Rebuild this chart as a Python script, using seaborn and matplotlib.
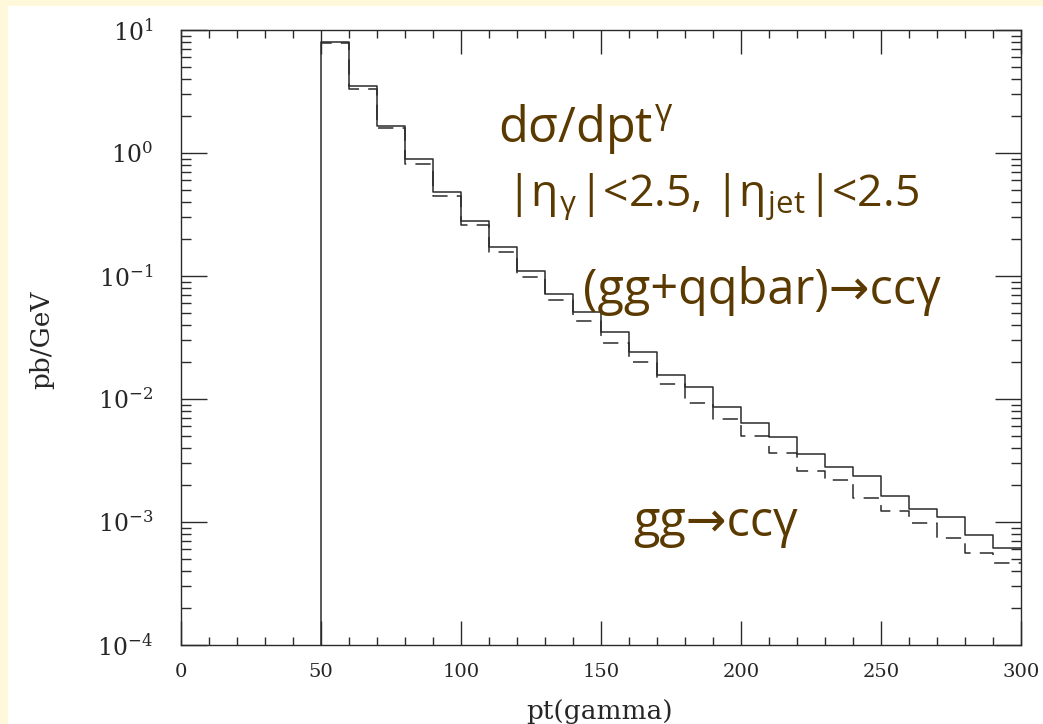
import numpy as np
import matplotlib
matplotlib.use("Agg")
import matplotlib.pyplot as plt
import seaborn as sns
from matplotlib.patches import Rectangle
from matplotlib.ticker import LogLocator, MultipleLocator, LogFormatterMathtext, NullFormatter

# ---- data ----
bin_edges = [50, 60, 70, 80, 90, 100, 110, 120, 130, 140, 150, 160, 170, 180, 190,
             200, 210, 220, 230, 240, 250, 260, 270, 280, 290, 300]
total = [8.0, 3.5, 1.66, 0.89, 0.485, 0.28, 0.173, 0.110, 0.0718, 0.0507,
         0.0353, 0.0243, 0.0157, 0.0126, 0.00866, 0.00634, 0.00489, 0.00357,
         0.00282, 0.00237, 0.00164, 0.00128, 0.00110, 0.00078, 0.00062]
gg_only = [7.8, 3.3, 1.59, 0.81, 0.45, 0.26, 0.156, 0.0986, 0.0638, 0.043,
           0.0287, 0.0201, 0.0132, 0.0093, 0.00688, 0.0050, 0.00366, 0.00262,
           0.00219, 0.00156, 0.00123, 0.00098, 0.000738, 0.000557, 0.000468]
ymin, ymax = 1e-4, 10
xmin, xmax = 0, 300

sns.set_style("ticks")
plt.rcParams["font.family"] = ["DejaVu Serif"]
plt.rcParams["mathtext.fontset"] = "cm"

line_col = "#2b2b2b"
txt_col = "#5a3a00"

fig = plt.figure(figsize=(10.43, 7.24), dpi=100, facecolor="#FFF8DA")
fig.patches.append(Rectangle((8 / 1043, 0), 1, 1 - 6 / 724, transform=fig.transFigure,
                             facecolor="white", edgecolor="none", zorder=-5))
ax = fig.add_axes([181 / 1043, 1 - 645 / 724, 840 / 1043, 615 / 724])
ax.set_facecolor("white")

# solid histogram (rises from the lower limit at the first edge)
xs = np.r_[bin_edges[0], bin_edges]
ys = np.r_[ymin, total, total[-1]]
sns.lineplot(x=xs, y=ys, ax=ax, drawstyle="steps-post", estimator=None, sort=False,
             color=line_col, linewidth=1.1)
# dashed histogram
xd = np.array(bin_edges, dtype=float)
yd = np.r_[gg_only, gg_only[-1]]
sns.lineplot(x=xd, y=yd, ax=ax, drawstyle="steps-post", estimator=None, sort=False,
             color=line_col, linewidth=1.1, linestyle=(3, (10, 6)))

ax.set_yscale("log")
ax.set_xlim(xmin, xmax)
ax.set_ylim(ymin, ymax)
ax.xaxis.set_major_locator(MultipleLocator(50))
ax.xaxis.set_minor_locator(MultipleLocator(10))
ax.yaxis.set_major_locator(LogLocator(base=10, numticks=10))
ax.yaxis.set_minor_locator(LogLocator(base=10, subs=np.arange(2, 10), numticks=20))
ax.yaxis.set_major_formatter(LogFormatterMathtext())
ax.yaxis.set_minor_formatter(NullFormatter())

for s in ax.spines.values():
    s.set_visible(True)
    s.set_linewidth(1.0)
    s.set_color(line_col)

ax.tick_params(axis="both", which="both", direction="in", top=True, right=True,
               color=line_col, width=1.0)
ax.tick_params(axis="y", which="major", length=19, pad=20, labelsize=17)
ax.tick_params(axis="y", which="minor", length=7)
ax.tick_params(axis="x", which="major", length=17, pad=13, labelsize=14)
ax.tick_params(axis="x", which="minor", length=6)

ax.set_xlabel("pt(gamma)", fontsize=19)
ax.set_ylabel("pb/GeV", fontsize=19)
ax.xaxis.set_label_coords((600 - 181) / 840, -0.088)
ax.yaxis.set_label_coords((54 - 181) / 840, 0.496)

ann = dict(color=txt_col, fontsize=35, family=["Open Sans", "DejaVu Sans"],
           ha="left", va="baseline")
H = 724
fig.text(498 / 1043, 1 - 142 / H, "d\u03c3/dpt$^{\\mathdefault{\u03b3}}$", **ann)
fig.text(506 / 1043, 1 - 205 / H,
         "|\u03b7$_{\\mathdefault{\u03b3}}$|<2.5, |\u03b7$_{\\mathdefault{jet}}$|<2.5",
         **{**ann, "fontsize": 32})
fig.text(583 / 1043, 1 - 304 / H, "(gg+qqbar)\u2192cc\u03b3", **ann)
fig.text(633 / 1043, 1 - 536 / H, "gg\u2192cc\u03b3", **ann)

fig.savefig("out.png", dpi=100, facecolor=fig.get_facecolor())
